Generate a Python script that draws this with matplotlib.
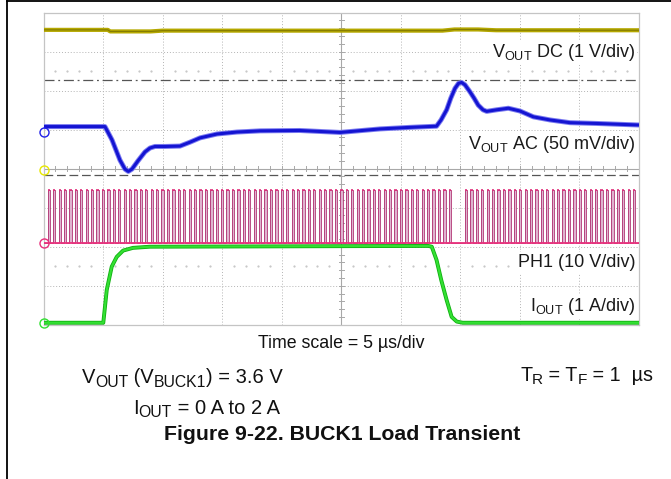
import numpy as np
import matplotlib.pyplot as plt
from matplotlib import font_manager, ft2font
from matplotlib.lines import Line2D

plt.rcParams['font.family'] = ['Liberation Sans', 'DejaVu Sans']
plt.rcParams['mathtext.fontset'] = 'custom'
plt.rcParams['mathtext.rm'] = 'Liberation Sans'
plt.rcParams['mathtext.it'] = 'Liberation Sans:italic'
plt.rcParams['mathtext.bf'] = 'Liberation Sans:bold'

W, H = 671, 479

# scope screen: 10 x 8 divisions, 5 us/div
T_SPAN = 50.0
Y_DIVS = 8

# ground markers of each channel, in divisions from the screen floor
ref_vdc = 3.97
ref_vac = 4.95
ref_ph1 = 2.09
ref_iout = 0.05

# VOUT DC, 1 V/div
vdc_t = [0, 5.4, 5.6, 9.0, 10.0, 33.5, 34.5, 36.5, 38.0, 50.0]
vdc_v = [3.59, 3.59, 3.55, 3.55, 3.57, 3.57, 3.60, 3.60, 3.58, 3.58]

# VOUT AC, 50 mV/div
vac_t = [0, 5.16, 5.75, 6.42, 6.84, 7.12, 7.43, 7.93, 8.52, 8.94, 9.36, 10.2,
         11.46, 12.3, 13.14, 14.57, 16.25, 18.18, 21.5, 24.9, 28.25, 30.77,
         33.0, 33.38, 33.85, 34.2, 34.55, 34.85, 35.11, 35.39, 35.81, 36.15,
         36.5, 36.9, 37.21, 38.05, 39.03, 40.0, 41.13, 42.53, 44.2, 46.45, 50.0]
vac_mv = [6.5, 6.5, -10.5, -36.5, -48, -51, -48, -37.5, -26, -21, -19, -19,
          -18.5, -13.5, -8, -3, -0.5, 1, 1.5, -1, 3.5, 5.5,
          7, 15, 28, 43, 55.5, 62, 63, 60, 51, 43,
          34, 28, 26, 28, 30, 26.5, 19, 15, 11.5, 10.5, 8.5]

# IOUT, 1 A/div
iout_t = [0, 5.02, 5.31, 5.73, 6.15, 6.68, 7.51, 8.94, 32.3, 32.6, 33.0, 33.4,
          33.85, 34.27, 34.7, 35.2, 50.0]
iout_a = [0, 0, 0.84, 1.44, 1.69, 1.85, 1.92, 1.95, 1.97, 1.95, 1.61, 1.09,
          0.58, 0.15, 0.03, 0, 0]

# PH1 switch node, 10 V/div
ph1_high_v = 13.6
ph1_first = 0.35      # us
ph1_period = 0.455    # us
ph1_on = 0.19         # us
ph1_skip = (34.3, 35.3)

# cursor lines
cursor_dashdot = 6.27
cursor_dashed = 3.84

fig = plt.figure(figsize=(W / 100, H / 100), dpi=100)
ax = fig.add_axes([43.5 / W, (H - 324.7) / H, 595.5 / W, 312 / H])
ax.set_xlim(0, T_SPAN)
ax.set_ylim(0, Y_DIVS)
ax.set_xticks([])
ax.set_yticks([])
for s in ax.spines.values():
    s.set_color('#c4c4c4')
    s.set_linewidth(0.9)

# graticule
grid_c = '#b4b4b4'
for x in np.arange(5, T_SPAN, 5):
    if x != 25:
        ax.axvline(x, color=grid_c, lw=0.7, ls=(0, (1, 2)), zorder=1)
for y in range(1, Y_DIVS):
    if y != 4:
        ax.axhline(y, color=grid_c, lw=0.7, ls=(0, (1, 2)), zorder=1)
ax.axvline(25, color='#a8a8a8', lw=0.8, zorder=1)
ax.axhline(4, color='#a8a8a8', lw=0.8, zorder=1)
for x in np.arange(1, T_SPAN, 1):
    ax.plot([x, x], [3.94, 4.06], color='#a8a8a8', lw=0.7, zorder=1)
for y in np.arange(0.2, Y_DIVS, 0.2):
    ax.plot([24.8, 25.2], [y, y], color='#a8a8a8', lw=0.7, zorder=1)
for y in (6.5, 1.5):
    xs = [x for x in range(1, 50) if x % 5]
    ax.plot(xs, [y] * len(xs), ls='none', marker='s', ms=0.6,
            color='#c8c8c8', zorder=1)

ax.axhline(cursor_dashdot, color='#555555', lw=0.9,
           ls=(0, (8, 3, 1.5, 3)), zorder=2)
ax.axhline(cursor_dashed, color='#555555', lw=0.9, ls=(0, (7, 3)), zorder=2)

# PH1 pulses
starts = np.arange(ph1_first, T_SPAN - ph1_on, ph1_period)
starts = starts[(starts + ph1_on < ph1_skip[0]) | (starts > ph1_skip[1])]
lo = ref_ph1
hi = ref_ph1 + ph1_high_v / 10
px = np.concatenate([[0], np.column_stack([starts, starts, starts + ph1_on,
                                           starts + ph1_on]).ravel(), [T_SPAN]])
py = np.concatenate([[lo], np.tile([lo, hi, hi, lo], len(starts)), [lo]])
ax.fill_between(px, lo, py, color='#dfb3cf', lw=0, zorder=3)
ax.plot(px, py, color='#b03070', lw=0.6, zorder=3)
ax.hlines(np.full(len(starts), hi), starts, starts + ph1_on,
          color='#e0307c', lw=1.2, zorder=3)
ax.axhline(lo, color='#e8307c', lw=1.3, zorder=3)

# VOUT DC
vdc_y = ref_vdc + np.array(vdc_v)
ax.plot(vdc_t, vdc_y, color='#b5a800', lw=3.0, solid_capstyle='butt', zorder=4)
ax.plot(vdc_t, vdc_y, color='#6f6800', lw=0.8, alpha=0.7, zorder=4)

# VOUT AC
vac_y = ref_vac + np.array(vac_mv) / 50
ax.plot(vac_t, vac_y, color='#7a7af0', lw=3.6, solid_capstyle='butt', zorder=5)
ax.plot(vac_t, vac_y, color='#1414d2', lw=2.2, solid_capstyle='butt', zorder=5)

# IOUT
iout_y = ref_iout + np.array(iout_a)
ax.plot(iout_t, iout_y, color='#10b010', lw=2.8, solid_capstyle='butt', zorder=6)
ax.plot(iout_t, iout_y, color='#33e033', lw=1.6, solid_capstyle='butt', zorder=6)

# channel ground markers
for y, c in [(ref_vac, '#2020e8'), (ref_vdc, '#e8e800'),
             (ref_ph1, '#e8307c'), (ref_iout, '#30e030')]:
    ax.plot(0, y, marker='o', ms=6.5, mfc='none', mec=c, mew=1.0,
            clip_on=False, zorder=7)


def ftext(x, y, s, **kw):
    return fig.text(x / W, 1 - y / H, s, **kw)


# text with subscripts, laid out piece by piece from the glyph advances
face = ft2font.FT2Font(font_manager.findfont(
    font_manager.FontProperties(family='Liberation Sans')))


def rich(x, y, parts, size, ha='left', sub=0.78):
    sizes = [size * sub if low else size for _, low in parts]
    widths = []
    for (s, low), fs in zip(parts, sizes):
        face.set_size(fs, 100)
        widths.append(sum(face.load_char(ord(c)).linearHoriAdvance
                          for c in s) / 65536)
    x0 = x - sum(widths) if ha == 'right' else x
    for (s, low), fs, w in zip(parts, sizes, widths):
        yy = y + (0.16 * size * 100 / 72 if low else 0)
        ftext(x0, yy, s, fontsize=fs, color='#111111', va='baseline')
        x0 += w


lab = dict(fontsize=13.0, color='#1a1a1a', ha='right', va='baseline', zorder=8,
           bbox=dict(facecolor='white', edgecolor='none', pad=1.5))
ftext(635, 57.3, r'V$_{\mathrm{OUT}}$ DC (1 V/div)', **lab)
ftext(635, 149.3, r'V$_{\mathrm{OUT}}$ AC (50 mV/div)', **lab)
ftext(635, 267.3, 'PH1 (10 V/div)', **lab)
ftext(635, 311, r'I$_{\mathrm{OUT}}$ (1 A/div)', **lab)

ftext(341, 348.3, 'Time scale = 5 µs/div', fontsize=12.8, color='#111111',
      ha='center', va='baseline')
rich(283, 383.3, [('V', 0), ('OUT', 1), (' (V', 0), ('BUCK1', 1),
                  (') = 3.6 V', 0)], 14.5, ha='right')
rich(283, 413.5, [('I', 0), ('OUT', 1), (' = 0 A to 2 A', 0)], 14.5,
     ha='right')
rich(653, 381, [('T', 0), ('R', 1), (' = T', 0), ('F', 1), (' = 1  µs', 0)],
     14.2, ha='right')
ftext(342, 440, 'Figure 9-22. BUCK1 Load Transient', fontsize=15.3,
      fontweight='bold', color='#111111', ha='center', va='baseline')

# page frame
fig.add_artist(Line2D([7 / W, 7 / W], [0, 1 - 1 / H], transform=fig.transFigure,
                      color='black', lw=1.3))
fig.add_artist(Line2D([7 / W, 1], [1 - 1 / H, 1 - 1 / H],
                      transform=fig.transFigure, color='black', lw=1.3))

fig.savefig('out.png', dpi=100)
